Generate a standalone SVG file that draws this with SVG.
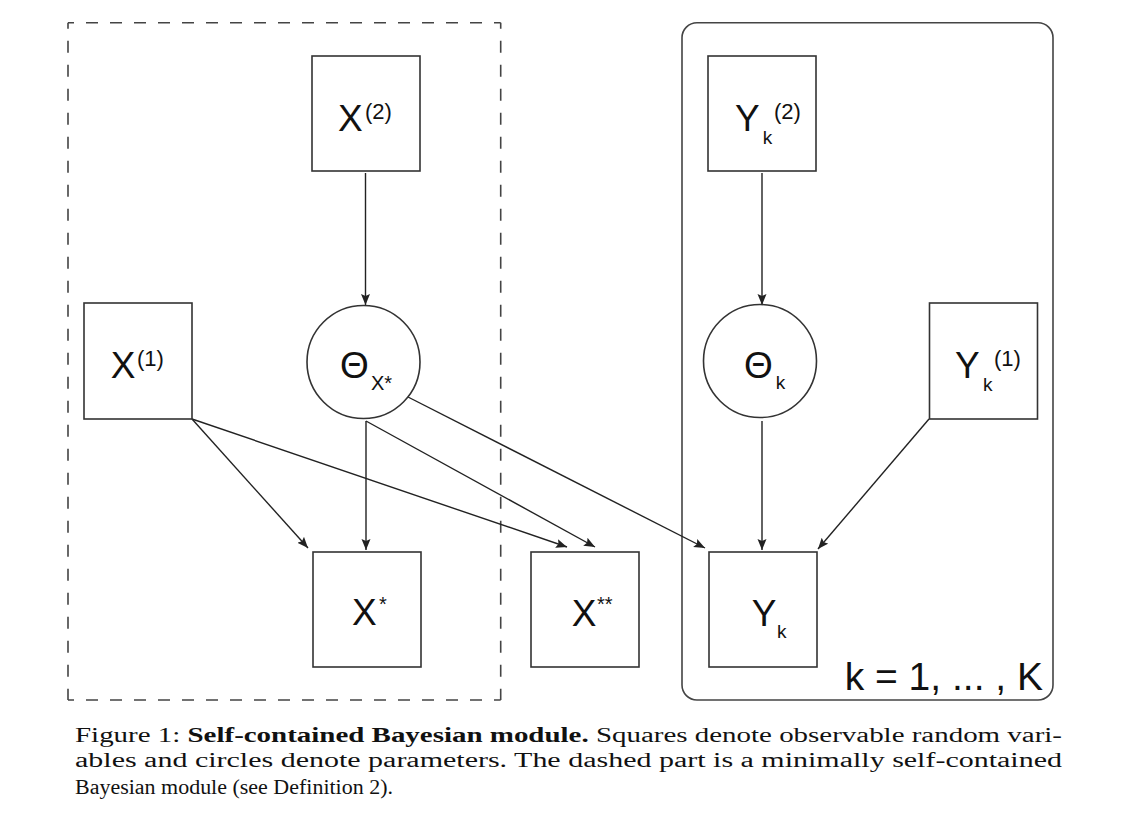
<svg xmlns="http://www.w3.org/2000/svg" width="1125" height="818" viewBox="0 0 1125 818">
<defs>
<marker id="ah" markerUnits="userSpaceOnUse" markerWidth="12" markerHeight="10" refX="11" refY="4.5" orient="auto">
<path d="M0,0 L11,4.5 L0,9 L2,4.5 z" fill="#222"/>
</marker>
<style>
.box{fill:#fff;stroke:#333;stroke-width:1.6}
.dash{stroke:#444;stroke-width:1.6;stroke-dasharray:12 12;stroke-dashoffset:6;fill:none}
.plate{fill:none;stroke:#444;stroke-width:1.6}
.edge{stroke:#222;stroke-width:1.4;fill:none;marker-end:url(#ah)}
.t{font-family:"Liberation Sans",Arial,sans-serif;fill:#111}
.big{font-size:37px}
.sup{font-size:22px}
.sub{font-size:19px}
.cap{font-family:"Liberation Serif","Times New Roman",serif;font-size:20px;fill:#111}
</style>
</defs>
<rect x="0" y="0" width="1125" height="818" fill="#fff"/>

<g id="module-dashed">
<line class="dash" x1="68" y1="22.7" x2="500.7" y2="22.7"/>
<line class="dash" x1="68" y1="22.7" x2="68" y2="700"/>
<line class="dash" x1="500.7" y1="22.7" x2="500.7" y2="700"/>
<line class="dash" x1="68" y1="700" x2="500.7" y2="700"/>
</g>
<g id="plate-k">
<rect class="plate" x="682" y="22.7" width="371" height="677.3" rx="15"/>
<text class="t" x="1043" y="690" font-size="39" text-anchor="end">k = 1, ... , K</text>
</g>

<g id="connectors">
<line class="edge" x1="365.5" y1="173" x2="365.5" y2="305"/>
<line class="edge" x1="192" y1="419" x2="308" y2="548"/>
<line class="edge" x1="192" y1="419" x2="567" y2="547"/>
<line class="edge" x1="366" y1="421" x2="366" y2="550"/>
<line class="edge" x1="366" y1="421" x2="595" y2="547"/>
<line class="edge" x1="408" y1="397" x2="705" y2="548"/>
<line class="edge" x1="762" y1="173" x2="762" y2="305"/>
<line class="edge" x1="762" y1="421" x2="762" y2="550"/>
<line class="edge" x1="929" y1="419" x2="818" y2="549"/>
</g>

<g id="node-X2">
<rect class="box" x="312" y="56" width="108" height="115"/>
<text class="t big" x="338" y="130.7">X</text>
<text class="t sup" x="365" y="118.5">(2)</text>
</g>
<g id="node-X1">
<rect class="box" x="84" y="303" width="108" height="116"/>
<text class="t big" x="110.7" y="378">X</text>
<text class="t sup" x="137" y="365.5">(1)</text>
</g>
<g id="node-ThetaX">
<circle class="box" cx="363.5" cy="362" r="56.5"/>
<text class="t big" x="340" y="378">Θ</text>
<text class="t" x="371" y="390" font-size="20">X*</text>
</g>
<g id="node-Xstar">
<rect class="box" x="313" y="552" width="108" height="115"/>
<text class="t big" x="352" y="625">X</text>
<text class="t" x="379" y="611" font-size="20">*</text>
</g>
<g id="node-Xstarstar">
<rect class="box" x="531" y="552" width="108" height="115"/>
<text class="t big" x="571.7" y="626">X</text>
<text class="t" x="597" y="611" font-size="20">**</text>
</g>
<g id="node-Yk2">
<rect class="box" x="708" y="56" width="108" height="115"/>
<text class="t big" x="735" y="130.7">Y</text>
<text class="t sub" x="762.7" y="144">k</text>
<text class="t sup" x="774" y="118.5">(2)</text>
</g>
<g id="node-ThetaK">
<circle class="box" cx="760" cy="361" r="56.5"/>
<text class="t big" x="744" y="378">Θ</text>
<text class="t sub" x="775.7" y="389.3">k</text>
</g>
<g id="node-Yk1">
<rect class="box" x="929.5" y="303" width="108" height="116"/>
<text class="t big" x="955" y="378">Y</text>
<text class="t sub" x="983" y="391">k</text>
<text class="t sup" x="994" y="365.5">(1)</text>
</g>
<g id="node-Yk">
<rect class="box" x="709" y="552" width="108" height="115"/>
<text class="t big" x="751.7" y="626">Y</text>
<text class="t sub" x="777" y="638.3">k</text>
</g>

<g id="caption">
<text class="cap" x="75" y="741.5" textLength="987" lengthAdjust="spacingAndGlyphs">Figure 1: <tspan font-weight="bold">Self-contained Bayesian module.</tspan> Squares denote observable random vari-</text>
<text class="cap" x="75" y="767" textLength="987" lengthAdjust="spacingAndGlyphs">ables and circles denote parameters.  The dashed part is a minimally self-contained</text>
<text class="cap" x="75" y="794" textLength="318" lengthAdjust="spacingAndGlyphs">Bayesian module (see Definition 2).</text>
</g>
</svg>
